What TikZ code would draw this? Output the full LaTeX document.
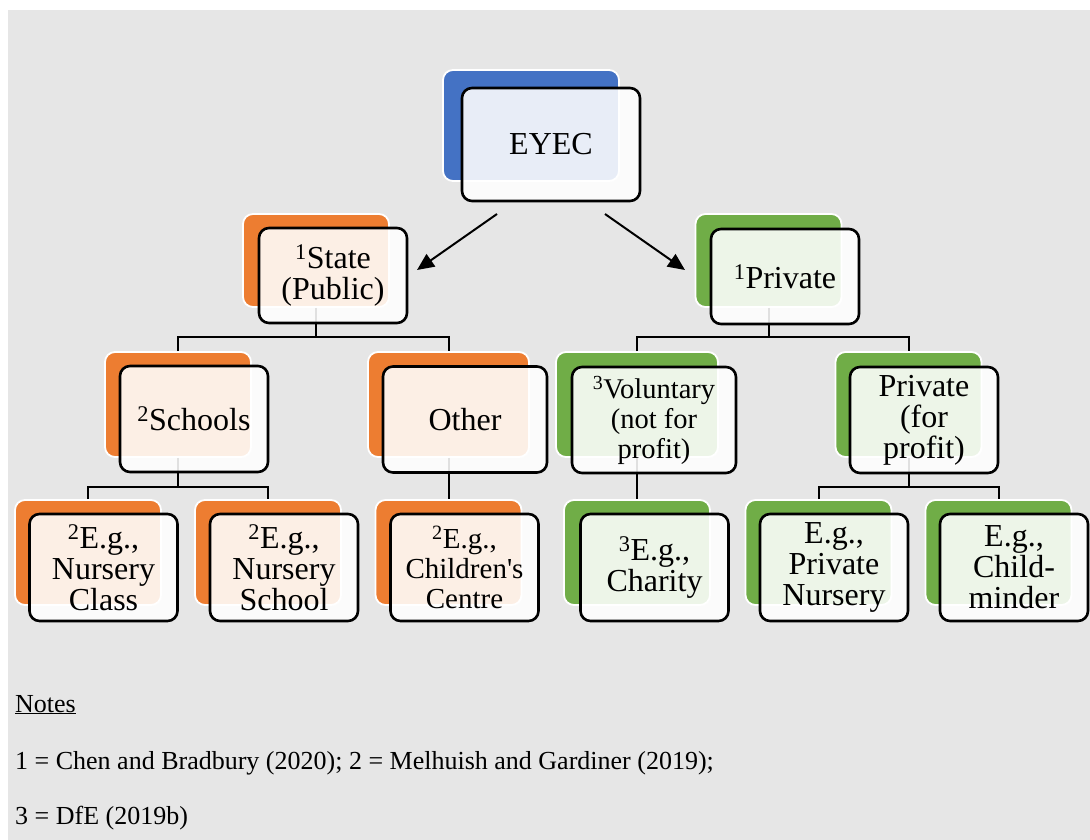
\documentclass[tikz,border=0pt]{standalone}
\usepackage{fontspec}
\setmainfont{Liberation Serif}
\usetikzlibrary{arrows.meta}
\definecolor{bgc}{HTML}{E6E6E6}
\definecolor{cblue}{HTML}{4472C4}
\definecolor{corange}{HTML}{ED7D31}
\definecolor{cgreen}{HTML}{70AD47}
\newcommand{\sq}[1]{\textsuperscript{#1}}
\begin{document}
\begin{tikzpicture}[x=1pt,y=-1pt,
 backbox/.style={draw=white, line width=1.8pt, rounded corners=10pt, inner sep=0pt, minimum width=146pt, minimum height=105pt},
 frontbox/.style={draw=black, line width=2.6pt, rounded corners=10pt, fill=white, fill opacity=0.88, text opacity=1, inner sep=0pt, minimum width=148pt, minimum height=107pt, align=center, font=\fontsize{32}{31}\selectfont},
 link/.style={draw=black, line width=2pt, line join=miter},
 arr/.style={draw=black, line width=2pt, -{Triangle[length=17pt,width=15pt]}},
 notetext/.style={anchor=base west, inner sep=0pt, font=\fontsize{26}{30}\selectfont}
]
\fill[white] (0,0) rectangle (1090,840);
\fill[bgc] (8,10) rectangle (1090,840);
\useasboundingbox (0,0) rectangle (1090,840);

% back shapes
\node[backbox, fill=cblue, minimum width=176pt, minimum height=111pt] (eyecB) at (531,125.5) {};
\node[backbox, fill=corange, minimum height=93pt] (stateB) at (316,260.5) {};
\node[backbox, fill=cgreen, minimum height=93pt] (privB) at (768.5,260.5) {};
\node[backbox, fill=corange] (schoolsB) at (178,404.5) {};
\node[backbox, fill=corange, minimum width=161pt] (otherB) at (448.5,404.5) {};
\node[backbox, fill=cgreen, minimum width=162pt] (volB) at (637,404.5) {};
\node[backbox, fill=cgreen] (profB) at (908.5,404.5) {};
\node[backbox, fill=corange] (ncB) at (88,552.5) {};
\node[backbox, fill=corange] (nsB) at (268,552.5) {};
\node[backbox, fill=corange] (ccB) at (448.5,552.5) {};
\node[backbox, fill=cgreen] (charB) at (637,552.5) {};
\node[backbox, fill=cgreen] (pnB) at (818.5,552.5) {};
\node[backbox, fill=cgreen] (cmB) at (998.5,552.5) {};

% connectors
\draw[link] (stateB.south) -- ++(0,29) coordinate (sbus);
\draw[link] (schoolsB.north) |- (sbus) -| (otherB.north);
\draw[link] (privB.south) -- ++(0,29) coordinate (pbus);
\draw[link] (volB.north) |- (pbus) -| (profB.north);
\draw[link] (schoolsB.south) -- ++(0,29) coordinate (s2bus);
\draw[link] (ncB.north) |- (s2bus) -| (nsB.north);
\draw[link] (otherB.south) -- (ccB.north);
\draw[link] (volB.south) -- (charB.north);
\draw[link] (profB.south) -- ++(0,29) coordinate (p2bus);
\draw[link] (pnB.north) |- (p2bus) -| (cmB.north);

\coordinate (a1s) at (497,214);
\coordinate (a1e) at (417,270);
\coordinate (a2s) at (605,214);
\coordinate (a2e) at (685,270);
\draw[arr] (a1s) -- (a1e);
\draw[arr] (a2s) -- (a2e);

% front shapes
\node[frontbox, minimum width=178pt, minimum height=113pt] (eyec) at (551,144.5) {EYEC};
\node[frontbox, minimum height=95pt] (state) at (333,275.5) {\sq{1}State\\(Public)};
\node[frontbox, minimum height=95pt] (priv) at (785,276.5) {\sq{1}Private};
\node[frontbox, minimum height=106pt] (schools) at (194,419) {\sq{2}Schools};
\node[frontbox, minimum width=164pt, minimum height=106pt] (other) at (465,419.5) {Other};
\node[frontbox, minimum width=164pt, minimum height=106pt, font=\fontsize{28.5}{30}\selectfont] (vol) at (654,420) {\sq{3}Voluntary\\(not for\\profit)};
\node[frontbox, minimum height=106pt] (prof) at (924,420) {Private\\(for\\profit)};
\node[frontbox] (nc) at (103.5,567.5) {\sq{2}E.g.,\\Nursery\\Class};
\node[frontbox] (ns) at (284,567.5) {\sq{2}E.g.,\\Nursery\\School};
\node[frontbox, font=\fontsize{29}{30}\selectfont] (cc) at (464.5,567.5) {\sq{2}E.g.,\\Children\textquotesingle s\\Centre};
\node[frontbox] (char) at (654.5,567.5) {\sq{3}E.g.,\\Charity};
\node[frontbox] (pn) at (834,567.5) {E.g.,\\Private\\Nursery};
\node[frontbox] (cm) at (1014,567.5) {E.g.,\\Child-\\minder};

% notes
\node[notetext] (notes) at (15,712) {\underline{Notes}};
\node[notetext] (note1) at (15,769) {1 = Chen and Bradbury (2020); 2 = Melhuish and Gardiner (2019);};
\node[notetext] (note3) at (15,824) {3 = DfE (2019b)};
\end{tikzpicture}
\end{document}
